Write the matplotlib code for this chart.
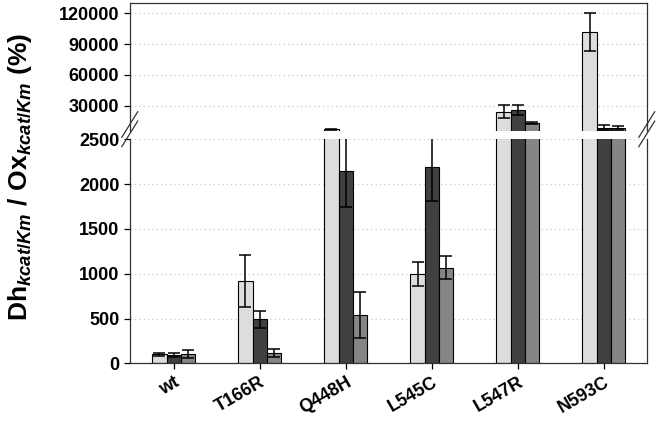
import matplotlib
matplotlib.use("Agg")
import matplotlib.pyplot as plt
import numpy as np

plt.rcParams['font.family'] = ['Liberation Sans', 'DejaVu Sans']
plt.rcParams['font.weight'] = 'bold'
plt.rcParams['mathtext.fontset'] = 'custom'
plt.rcParams['mathtext.rm'] = 'Liberation Sans:bold'
plt.rcParams['mathtext.it'] = 'Liberation Sans:bold:italic'

categories = ["wt", "T166R", "Q448H", "L545C", "L547R", "N593C"]

# three series per mutant (light, dark, medium grey)
light_vals = [100, 918, 7000, 1001, 24200, 101500]
light_err = [20, 290, 400, 135, 6500, 18400]
dark_vals = [95, 491, 2146, 2187, 25900, 8700]
dark_err = [20, 97, 400, 370, 4900, 2000]
mid_vals = [100, 119, 539, 1068, 12700, 8300]
mid_err = [45, 45, 255, 130, 1000, 2000]

colors = ["#dddddd", "#404040", "#858585"]
series = [(light_vals, light_err), (dark_vals, dark_err), (mid_vals, mid_err)]

fig = plt.figure(figsize=(6.62, 4.25), dpi=100)
left, right = 0.196, 0.977
ax_top = fig.add_axes([left, 0.692, right - left, 0.992 - 0.692])
ax_bot = fig.add_axes([left, 0.145, right - left, 0.672 - 0.145])

x = np.arange(len(categories))
w = 0.165
for ax in (ax_top, ax_bot):
    for i, (vals, errs) in enumerate(series):
        pos = x + (i - 1) * w
        ax.bar(pos, vals, width=w, color=colors[i], edgecolor="black", linewidth=0.8, zorder=2)
        ax.errorbar(pos, vals, yerr=errs, fmt="none", ecolor="black", elinewidth=1.1,
                    capsize=4.2, capthick=1.1, zorder=3)
    ax.set_xlim(-0.51, 5.5)
    ax.grid(axis="y", color="#c8c8c8", linestyle=(0, (1, 2.5)), linewidth=0.9, zorder=0)
    ax.set_axisbelow(True)
    for s in ax.spines.values():
        s.set_linewidth(0.9)
        s.set_color("#333333")
    ax.tick_params(axis="y", direction="out", length=4, width=0.9, labelsize=13)

ax_top.set_ylim(5400, 129700)
ax_top.set_yticks([30000, 60000, 90000, 120000])
ax_top.spines["bottom"].set_visible(False)
ax_top.tick_params(axis="x", bottom=False, labelbottom=False)

ax_bot.set_ylim(0, 2500)
ax_bot.set_yticks([0, 500, 1000, 1500, 2000, 2500])
ax_bot.spines["top"].set_visible(False)
ax_bot.set_xticks(x)
ax_bot.set_xticklabels(categories, rotation=30, ha="right", rotation_mode="anchor", fontsize=13)
ax_bot.tick_params(axis="x", direction="out", length=4, width=0.9)

# break marks on both side spines
for xs in (left, right):
    for dy in (0.0, 0.022):
        fig.add_artist(plt.Line2D([xs - 0.012, xs + 0.012], [0.655 + dy, 0.715 + dy],
                                  color="#333333", linewidth=0.9, transform=fig.transFigure))

fig.text(0.03, 0.585, r"$\mathrm{Dh}_{\mathit{kcat/Km}}\ \mathrm{/\ Ox}_{\mathit{kcat/Km}}\ \mathrm{(\%)}$",
         rotation=90, ha="center", va="center", fontsize=19)

fig.savefig("out.png", dpi=100)
